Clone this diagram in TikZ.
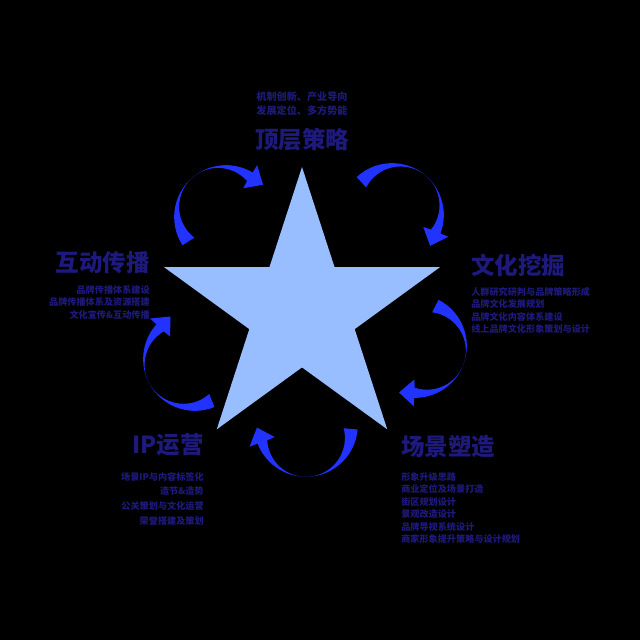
\documentclass[tikz,border=0pt]{standalone}
\usepackage{fontspec}
\setmainfont{Noto Sans CJK SC}
\definecolor{navy}{RGB}{30,26,125}
\definecolor{arrowblue}{RGB}{34,51,255}
\definecolor{starblue}{RGB}{153,190,255}

\tikzstyle{ttl} = [text=navy, font=\fontsize{16.7}{20}\selectfont\bfseries, inner sep=0pt]
\tikzstyle{txt} = [text=navy, font=\fontsize{6.5}{8.9}\selectfont\bfseries, inner sep=0pt]
\tikzset{cycarrow/.pic={
 \fill[arrowblue] (175:48) arc[start angle=175, end angle=21, radius=48]
   -- (21:56) -- (45.4,2.4) -- (21:31) -- (35.9,14.2)
   arc[start angle=3.5, end angle=194.5, radius=36] -- cycle;
}}

\begin{document}
\begin{tikzpicture}[x=0.025cm, y=0.025cm]
\useasboundingbox (0,0) rectangle (640,640);
\fill[black] (0,0) rectangle (640,640);

% Star
\coordinate (ctr) at (302,328);
\fill[starblue, shift={(ctr)}] (90:145) \foreach \a in {0,...,4} {-- (126+72*\a:55.4) -- (162+72*\a:145)} -- cycle;

% Arrows round the star
\pic[rotate=38, scale=1.08] at (226,423) {cycarrow};
\pic[rotate=-42, scale=1.08] at (392,425) {cycarrow};
\pic[rotate=-112, scale=1.08] at (415,294) {cycarrow};
\pic[rotate=180, scale=1.08] at (306,215) {cycarrow};
\pic[rotate=117, scale=1.08] at (195,281) {cycarrow};

%TOP
\node[ttl] (strategy) at (302,500) {顶层策略};
\node[txt, align=center, font=\fontsize{7.2}{10}\selectfont\bfseries] (strategytxt) at (302,536) {机制创新、产业导向\\发展定位、多方势能};

%RIGHT
\node[ttl, anchor=west] (culture) at (471,375) {文化挖掘};
\node[txt, align=left, anchor=north west] (culturetxt) at (471,353) {人群研究研判与品牌策略形成\\品牌文化发展规划\\品牌文化内容体系建设\\线上品牌文化形象策划与设计};

%LEFT
\node[ttl, anchor=east] (spread) at (150,377) {互动传播};
\node[txt, align=right, anchor=north east] (spreadtxt) at (150,355) {品牌传播体系建设\\品牌传播体系及资源搭建\\文化宣传\&互动传播};

%BOTTOM LEFT
\node[ttl, anchor=east] (ipop) at (204,195) {IP运营};
\node[txt, align=right, anchor=north east, font=\fontsize{6.5}{10.4}\selectfont\bfseries] (ipoptxt) at (204,168) {场景IP与内容标签化\\造节\&造势\\公关策划与文化运营\\荣誉搭建及策划};

%BOTTOM RIGHT
\node[ttl, anchor=west] (scene) at (401,193) {场景塑造};
\node[txt, align=left, anchor=north west] (scenetxt) at (401,168) {形象升级思路\\商业定位及场景打造\\街区规划设计\\景观改造设计\\品牌导视系统设计\\商家形象提升策略与设计规划};
\end{tikzpicture}
\end{document}
